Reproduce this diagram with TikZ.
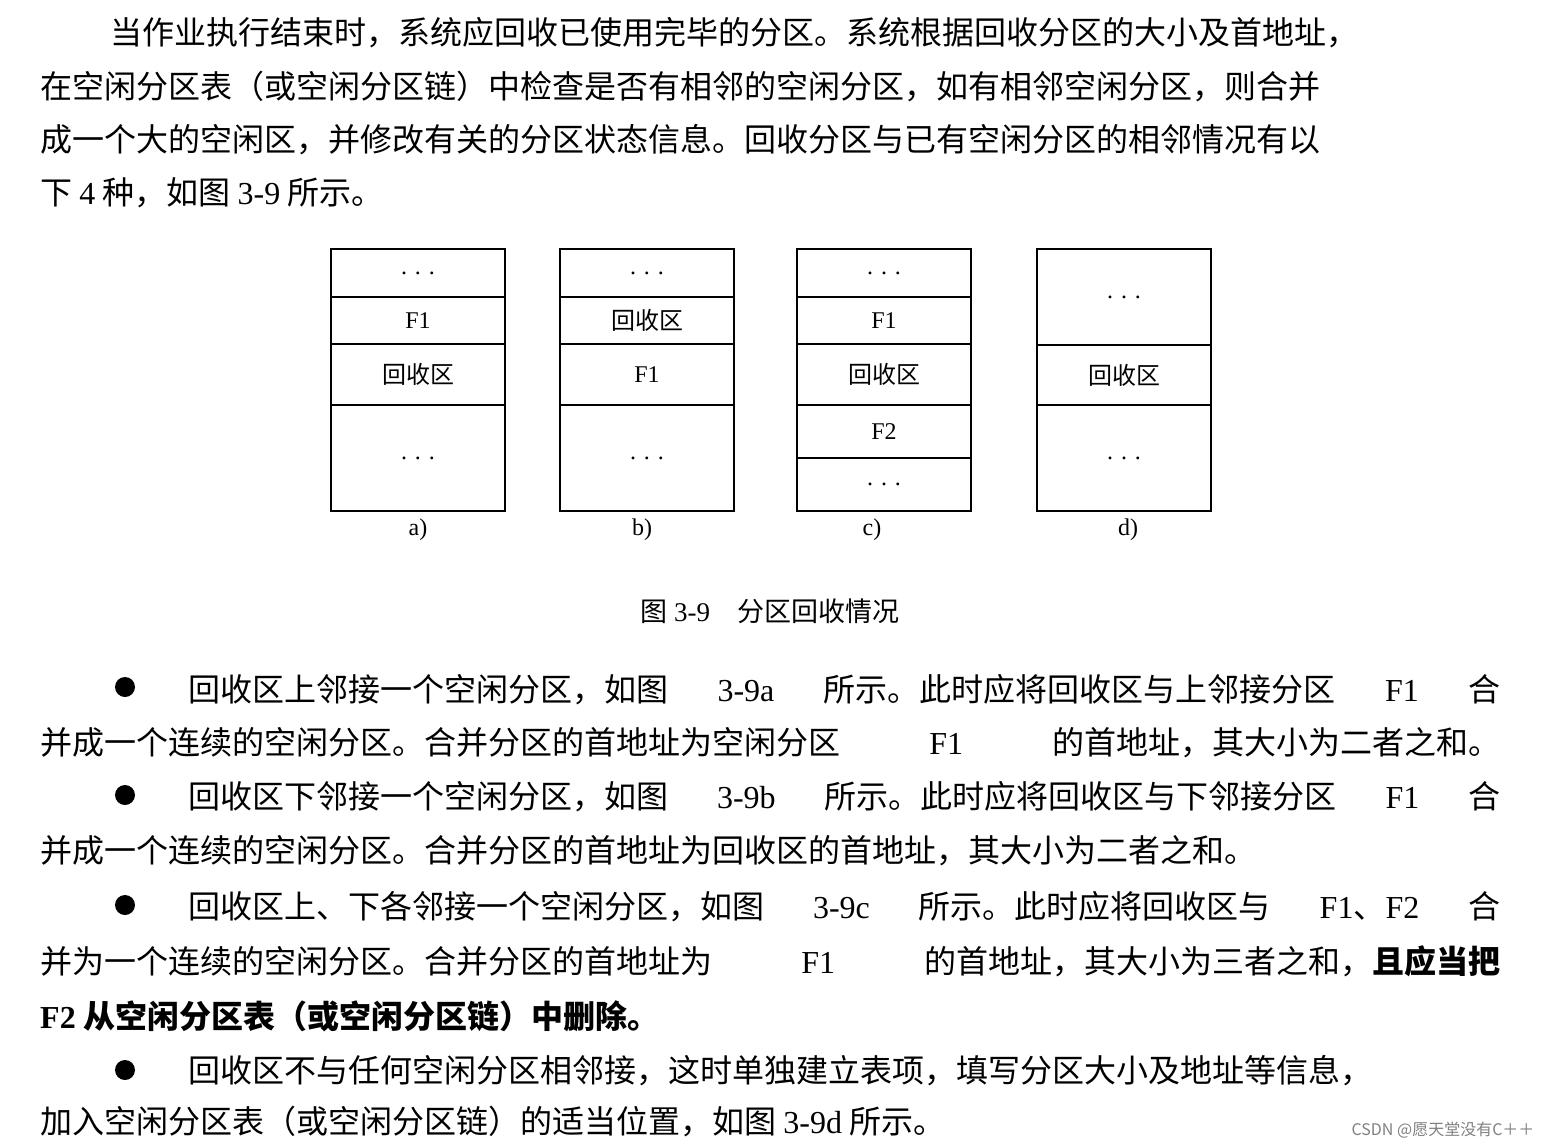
\documentclass[tikz,border=0pt]{standalone}
\usepackage{fontspec}
\setmainfont{Noto Sans CJK SC}
\newfontfamily\lat{Liberation Serif}
\XeTeXlinebreaklocale "zh"
\XeTeXlinebreakskip=0pt plus 30pt
\newcommand\jline[4]{\node[anchor=west,inner sep=0pt,font=\fontsize{32}{38}\selectfont] (#1) at (#2) {\hbox to #3pt{#4}};}
\newcommand\nline[3]{\node[anchor=west,inner sep=0pt,font=\fontsize{32}{38}\selectfont] (#1) at (#2) {#3};}
\newcommand\LT[1]{{\lat #1}}
\tikzset{part/.style={draw,line width=1.3pt,minimum width=174pt,inner sep=0pt,font=\fontsize{24}{28}\selectfont},
 lab/.style={font=\lat\fontsize{24}{28}\selectfont},
 bul/.style={circle,fill=black,inner sep=0pt,minimum size=20pt}}
\begin{document}
\begin{tikzpicture}[x=1pt,y=-1pt]
\fill[white] (0,0) rectangle (1550,1148);
\useasboundingbox (0,0) rectangle (1550,1148);
\jline{p1}{110,33}{1390}{当作业执行结束时，系统应回收已使用完毕的分区。系统根据回收分区的大小及首地址，}
\jline{p2}{40,87}{1460}{在空闲分区表（或空闲分区链）中检查是否有相邻的空闲分区，如有相邻空闲分区，则合并}
\jline{p3}{40,140}{1460}{成一个大的空闲区，并修改有关的分区状态信息。回收分区与已有空闲分区的相邻情况有以}
\nline{p4}{40,193}{下 \LT{4} 种，如图 \LT{3-9} 所示。}
% a
\node[part,minimum height=48pt] (a1) at (418,273) {\LT{. . .}};
\node[part,minimum height=47pt] (a2) at (418,320.5) {\LT{F1}};
\node[part,minimum height=61pt] (a3) at (418,374.5) {回收区};
\node[part,minimum height=106pt] (a4) at (418,458) {\LT{. . .}};
\node[lab] (la) at (418,530) {a)};
% b
\node[part,minimum height=48pt] (b1) at (647,273) {\LT{. . .}};
\node[part,minimum height=47pt] (b2) at (647,320.5) {回收区};
\node[part,minimum height=61pt] (b3) at (647,374.5) {\LT{F1}};
\node[part,minimum height=106pt] (b4) at (647,458) {\LT{. . .}};
\node[lab] (lb) at (642,530) {b)};
% c
\node[part,minimum height=48pt] (c1) at (884,273) {\LT{. . .}};
\node[part,minimum height=47pt] (c2) at (884,320.5) {\LT{F1}};
\node[part,minimum height=61pt] (c3) at (884,374.5) {回收区};
\node[part,minimum height=53pt] (c4) at (884,431.5) {\LT{F2}};
\node[part,minimum height=53pt] (c5) at (884,484.5) {\LT{. . .}};
\node[lab] (lc) at (872,530) {c)};
% d
\node[part,minimum height=96pt] (d1) at (1124,297) {\LT{. . .}};
\node[part,minimum height=60pt] (d2) at (1124,375) {回收区};
\node[part,minimum height=106pt] (d3) at (1124,458) {\LT{. . .}};
\node[lab] (ld) at (1128,530) {d)};
\node[font=\fontsize{27}{32}\selectfont] (cap) at (770,611) {图 \LT{3-9}\quad 分区回收情况};
% bullets
\node[bul] (u1) at (125,687) {};
\node[bul] (u2) at (125,795) {};
\node[bul] (u3) at (125,905) {};
\node[bul] (u4) at (125,1070) {};
\jline{q1}{188,690}{1312}{回收区上邻接一个空闲分区，如图 \LT{3-9a} 所示。此时应将回收区与上邻接分区 \LT{F1} 合}
\jline{q2}{40,743}{1460}{并成一个连续的空闲分区。合并分区的首地址为空闲分区 \LT{F1} 的首地址，其大小为二者之和。}
\jline{q3}{188,797}{1312}{回收区下邻接一个空闲分区，如图 \LT{3-9b} 所示。此时应将回收区与下邻接分区 \LT{F1} 合}
\nline{q4}{40,851}{并成一个连续的空闲分区。合并分区的首地址为回收区的首地址，其大小为二者之和。}
\jline{q5}{188,907}{1312}{回收区上、下各邻接一个空闲分区，如图 \LT{3-9c} 所示。此时应将回收区与 \LT{F1}、\LT{F2} 合}
\jline{q6}{40,961}{1460}{并为一个连续的空闲分区。合并分区的首地址为 \LT{F1} 的首地址，其大小为三者之和，\textbf{且应当把}}
\nline{q7}{40,1016}{\textbf{{\lat\bfseries F2} 从空闲分区表（或空闲分区链）中删除。}}
\jline{q8}{188,1071}{1312}{回收区不与任何空闲分区相邻接，这时单独建立表项，填写分区大小及地址等信息，}
\nline{q9}{40,1122}{加入空闲分区表（或空闲分区链）的适当位置，如图 \LT{3-9d} 所示。}
\node[anchor=east,text=gray,font=\fontsize{16}{18}\selectfont] (wm) at (1538,1130) {CSDN @愿天堂没有C＋＋};
\end{tikzpicture}
\end{document}
